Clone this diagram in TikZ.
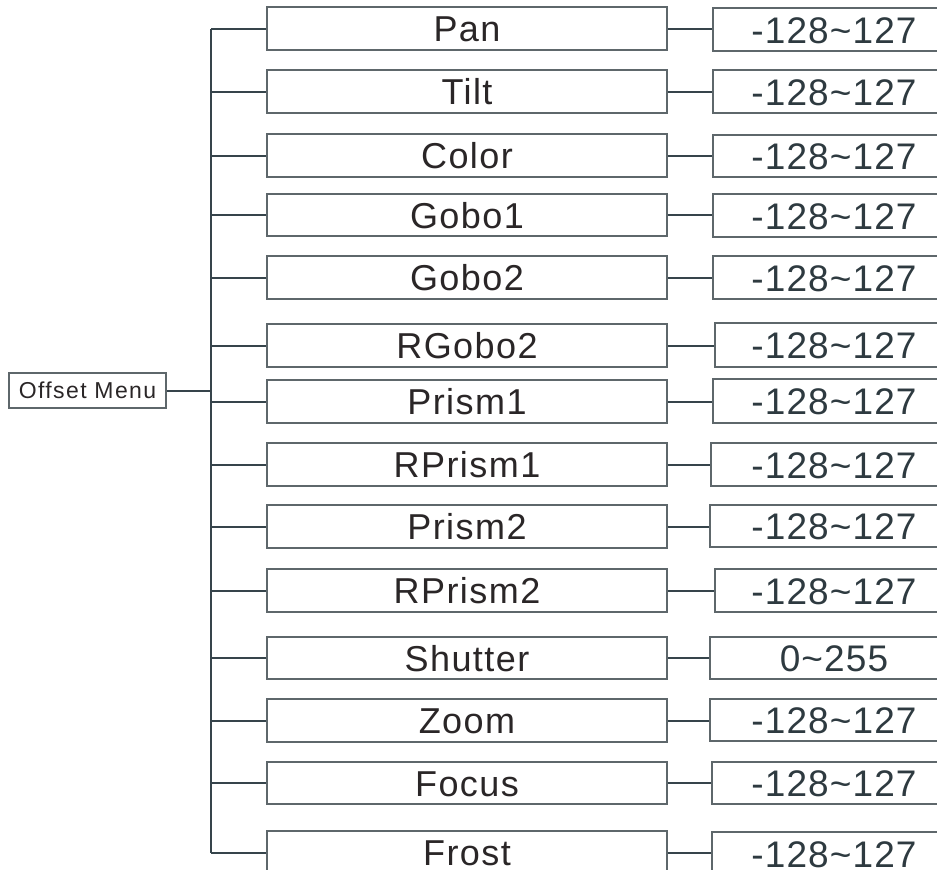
\documentclass[tikz,border=0pt]{standalone}
\usepackage{fontspec}
\setmainfont{Liberation Sans}
\definecolor{linec}{HTML}{36444B}
\definecolor{boxc}{HTML}{5E676B}
\definecolor{txtc}{HTML}{2A2627}
\definecolor{valc}{HTML}{2E3A40}
\begin{document}
\begin{tikzpicture}[x=1pt,y=-1pt,
  midbox/.style={draw=boxc, line width=1.4pt, minimum width=400pt, inner sep=0pt,
    font=\fontsize{36}{36}\selectfont\addfontfeatures{LetterSpace=4}, text=txtc, text height=26pt, text depth=0pt},
  valbox/.style={draw=boxc, line width=1.4pt, inner sep=0pt,
    font=\fontsize{37}{37}\selectfont\addfontfeatures{LetterSpace=3}, text=valc, text height=27pt, text depth=0pt},
  rootbox/.style={draw=boxc, line width=1.2pt, minimum width=157pt, minimum height=35pt, inner sep=0pt,
    font=\fontsize{23}{23}\selectfont\addfontfeatures{LetterSpace=6}, text=txtc},
  conn/.style={draw=linec, line width=2pt}]
\useasboundingbox (0,0) rectangle (937,870);
\node[rootbox] (root) at (87.5,390.5) {Offset Menu};
\coordinate (tx) at (211,0);
\foreach \i/\lab/\ta/\tb/\rl/\ra/\rb/\val in {
  1/Pan/7/50/713/8/51/-128\textasciitilde127,
  2/Tilt/70/113/713/70/113/-128\textasciitilde127,
  3/Color/134/177/713/135/177/-128\textasciitilde127,
  4/Gobo1/194/236/713/194/237/-128\textasciitilde127,
  5/Gobo2/256/299/713/256/299/-128\textasciitilde127,
  6/RGobo2/324/367/715/323/367/-128\textasciitilde127,
  7/Prism1/380/423/713/379/423/-128\textasciitilde127,
  8/RPrism1/443/486/711/443/486/-128\textasciitilde127,
  9/Prism2/505/548/710/505/547/-128\textasciitilde127,
  10/RPrism2/569/612/715/569/612/-128\textasciitilde127,
  11/Shutter/637/679/710/637/679/0\textasciitilde255,
  12/Zoom/699/742/710/699/741/-128\textasciitilde127,
  13/Focus/762/804/712/762/804/-128\textasciitilde127,
  14/Frost/831/874/712/832/875/-128\textasciitilde127}{
  \node[midbox, minimum height={\tb-\ta}] (m\i) at (467,{(\ta+\tb)/2}) {\lab};
  \node[valbox, minimum height={\rb-\ra}, minimum width={2*(834-\rl)}] (v\i) at (834,{(\ra+\rb)/2}) {\val};
  \draw[conn] (m\i.west -| tx) -- (m\i.west);
  \draw[conn] (m\i.east) -- (m\i.east -| v\i.west);
}
\draw[conn] (m1.west -| tx) -- (m14.west -| tx);
\draw[conn] (root.east) -- (root.east -| tx);
\end{tikzpicture}
\end{document}
